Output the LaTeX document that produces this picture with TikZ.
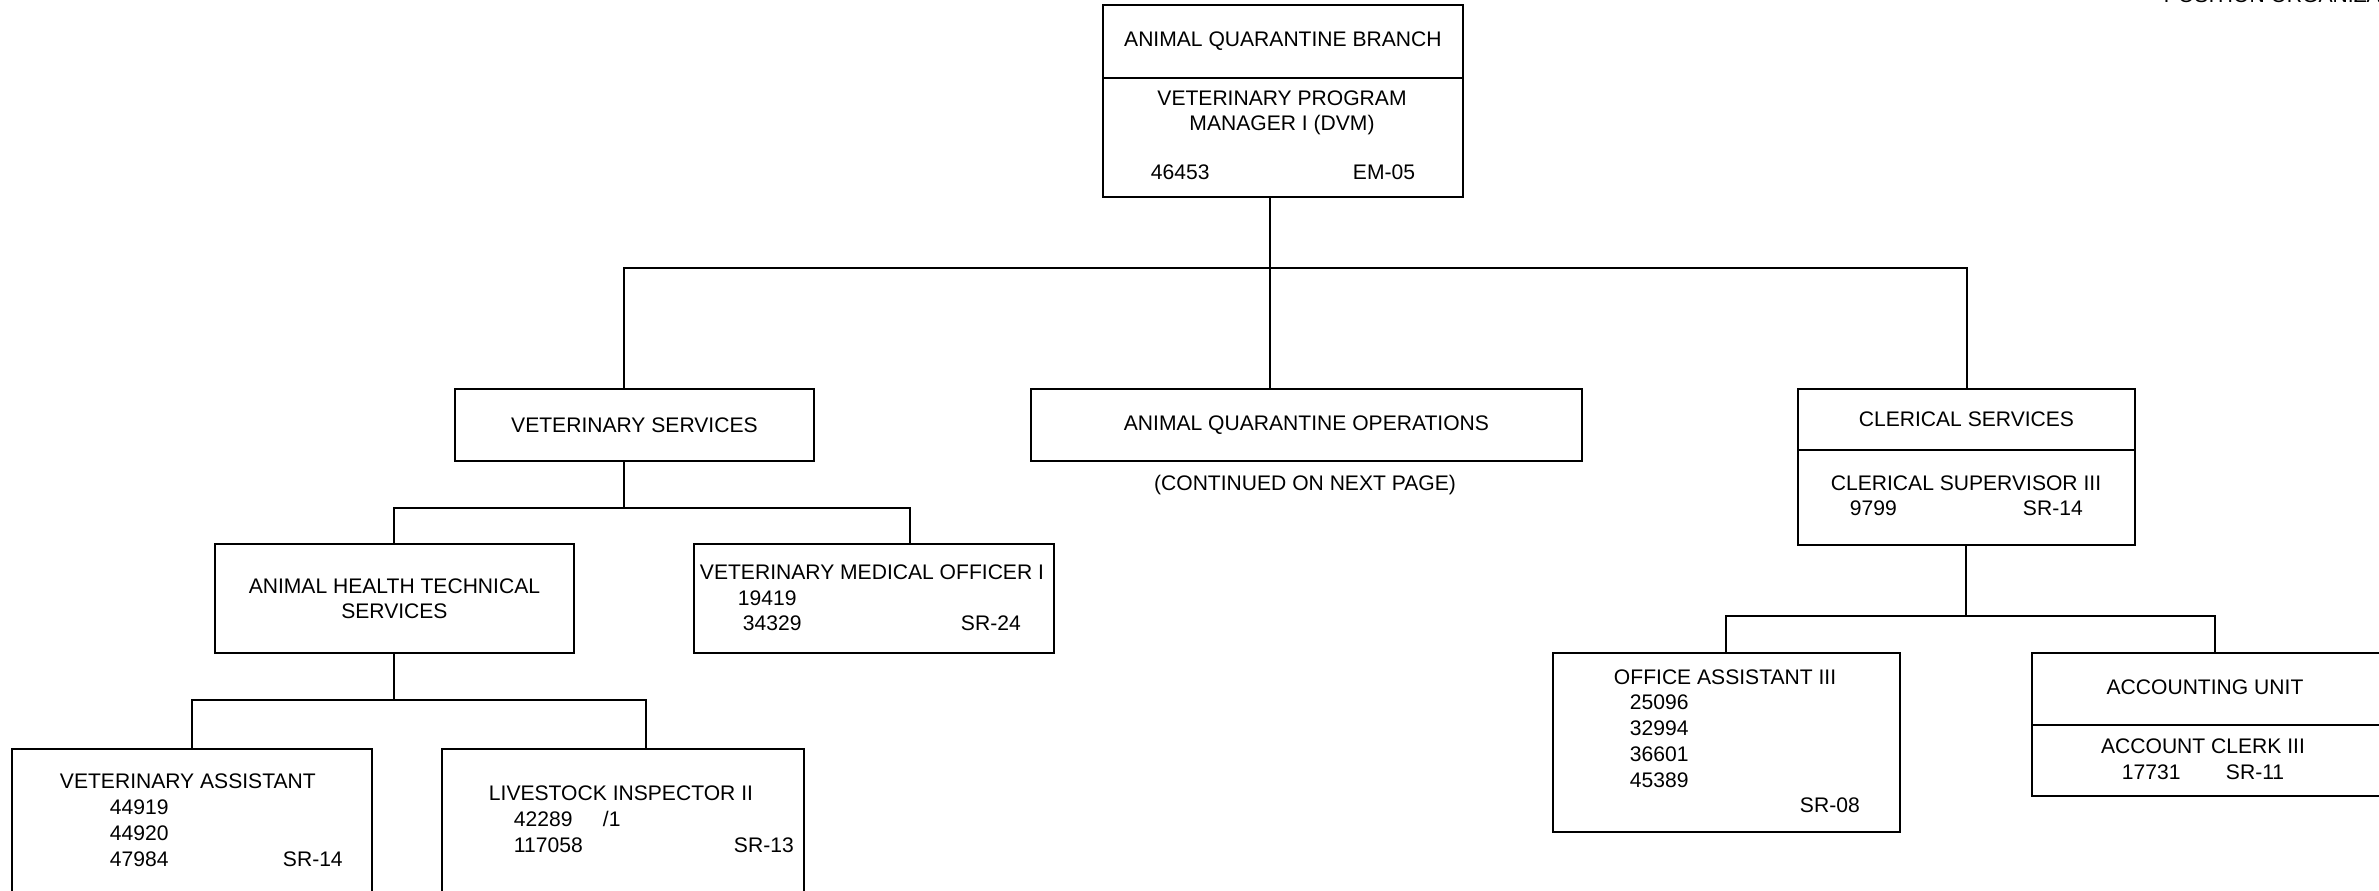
\documentclass[tikz,border=0pt]{standalone}
\usepackage{fontspec}
\setmainfont{Liberation Sans}

\begin{document}
\begin{tikzpicture}[x=0.02cm,y=-0.02cm,line width=1.1pt,
        font=\fontsize{12}{14.4}\selectfont,
        box/.style={draw,rectangle,inner sep=0pt,anchor=north west,align=center},
        lbl/.style={inner sep=0pt,anchor=base west},
        mid/.style={inner sep=0pt,anchor=base}]
        \useasboundingbox (0,0) rectangle (2379,891);
        
        \node[box,minimum width=7.2cm,minimum height=1.46cm] (branch) at (1102,4) {ANIMAL QUARANTINE BRANCH};
        \node[box,minimum width=7.2cm,minimum height=2.38cm] (dvm) at (1102,77) {};
        \node[box,minimum width=7.18cm,minimum height=1.44cm] (vets) at (454,388) {VETERINARY SERVICES};
        \node[box,minimum width=11.02cm,minimum height=1.44cm] (aqo) at (1030,388) {ANIMAL QUARANTINE OPERATIONS};
        \node[box,minimum width=6.74cm,minimum height=1.22cm] (cler) at (1797,388) {CLERICAL SERVICES};
        \node[box,minimum width=6.74cm,minimum height=1.9cm] (clersup) at (1797,449) {};
        \node[box,minimum width=7.18cm,minimum height=2.18cm] (ahts) at (214,543) {ANIMAL HEALTH TECHNICAL\\SERVICES};
        \node[box,minimum width=7.2cm,minimum height=2.18cm] (vmo) at (693,543) {};
        \node[box,minimum width=7.2cm,minimum height=3.2cm] (va) at (11,748) {};
        \node[box,minimum width=7.24cm,minimum height=3.2cm] (li) at (441,748) {};
        \node[box,minimum width=6.94cm,minimum height=3.58cm] (oa) at (1552,652) {};
        \node[box,minimum width=7.36cm,minimum height=1.44cm] (acct) at (2031,652) {};
        \node[box,minimum width=7.36cm,minimum height=1.42cm] (clerk) at (2031,724) {};
        
        \coordinate (t1) at (624,268);
        \coordinate (t2) at (1270,268);
        \coordinate (t3) at (1967,268);
        \draw (dvm.south -| t2) -- (aqo.north -| t2);
        \draw (vets.north -| t1) |- (t3) -- (cler.north -| t3);
        
        \coordinate (s2) at (910,508);
        \draw (vets.south -| t1) -- (t1 |- s2);
        \draw (ahts.north) |- (s2) -- (vmo.north -| s2);
        
        \coordinate (u2) at (646,700);
        \draw (ahts.south) -- (ahts.south |- u2);
        \draw (va.north) |- (u2) -- (li.north -| u2);
        
        \coordinate (w2) at (2215,616);
        \draw (clersup.south) -- (clersup.south |- w2);
        \draw (oa.north) |- (w2) -- (acct.north -| w2);
        
        \node[lbl] (chart) at (2163,3) {POSITION ORGANIZATION CHART};
        
        \node[mid] (dvm-a) at (1282,106) {VETERINARY PROGRAM};
        \node[mid] (dvm-b) at (1282,131) {MANAGER I (DVM)};
        \node[lbl] (dvm-no) at (1150,180) {46453};
        \node[lbl] (dvm-sr) at (1352,180) {EM-05};
        
        \node[mid] (aqo-note) at (1305,491) {(CONTINUED ON NEXT PAGE)};
        
        \node[mid] (sup-a) at (1966,491) {CLERICAL SUPERVISOR III};
        \node[lbl] (sup-no) at (1849,515) {9799};
        \node[lbl] (sup-sr) at (2022,515) {SR-14};
        
        \node[lbl] (vmo-a) at (699,579) {VETERINARY MEDICAL OFFICER I};
        \node[lbl] (vmo-no1) at (737,605) {19419};
        \node[lbl] (vmo-no2) at (742,630) {34329};
        \node[lbl] (vmo-sr) at (960,630) {SR-24};
        
        \node[lbl] (va-a) at (59,788) {VETERINARY ASSISTANT};
        \foreach \n/\y in {44919/814,44920/840,47984/866}{
            \node[lbl] (va-\n) at (109,\y) {\n};
        }
        \node[lbl] (va-sr) at (282,866) {SR-14};
        
        \node[lbl] (li-a) at (488,800) {LIVESTOCK INSPECTOR II};
        \node[lbl] (li-no1) at (513,826) {42289};
        \node[lbl] (li-fn) at (602,826) {/1};
        \node[lbl] (li-no2) at (513,852) {117058};
        \node[lbl] (li-sr) at (733,852) {SR-13};
        
        \node[lbl] (oa-a) at (1613,684) {OFFICE ASSISTANT III};
        \foreach \n/\y in {25096/709,32994/735,36601/761,45389/787}{
            \node[lbl] (oa-\n) at (1629,\y) {\n};
        }
        \node[lbl] (oa-sr) at (1799,812) {SR-08};
        
        \node[mid] (acct-a) at (2205,694) {ACCOUNTING UNIT};
        \node[mid] (clerk-a) at (2203,753) {ACCOUNT CLERK III};
        \node[lbl] (clerk-no) at (2121,779) {17731};
        \node[lbl] (clerk-sr) at (2225,779) {SR-11};
    \end{tikzpicture}
\end{document}
